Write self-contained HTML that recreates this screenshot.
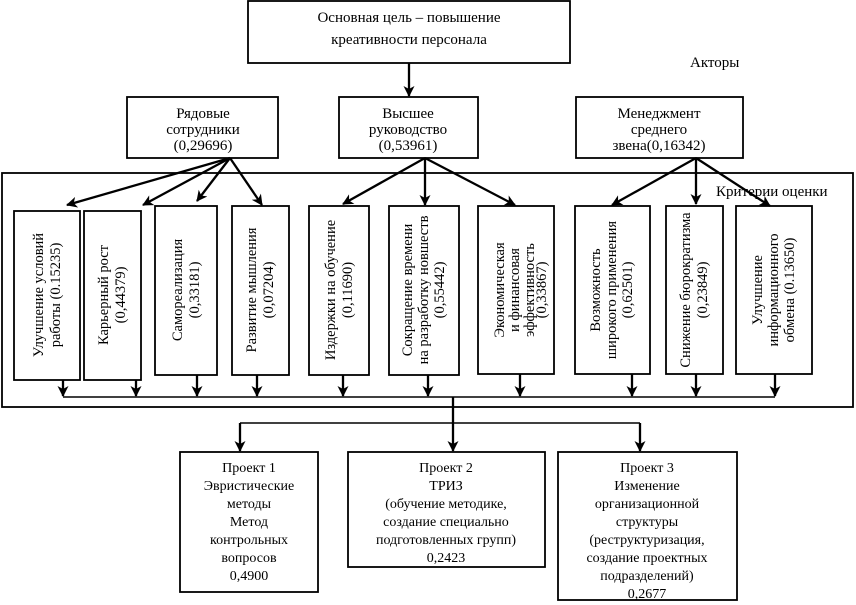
<!DOCTYPE html>
<html><head><meta charset="utf-8"><style>
html,body{margin:0;padding:0;background:#fff;}
svg{display:block;font-family:"Liberation Serif","DejaVu Serif",serif;}
text{font-size:14px;fill:#000;}
.big{font-size:15px;}
</style></head><body>
<svg width="856" height="605" viewBox="0 0 856 605" xmlns="http://www.w3.org/2000/svg">
<defs>
<marker id="a" markerWidth="11" markerHeight="11" refX="10" refY="5.5" orient="auto" markerUnits="userSpaceOnUse">
<path d="M0,0 L11,5.5 L0,11 L3,5.5 Z" fill="#000"/>
</marker>
</defs>
<g fill="none" stroke="#000" stroke-width="1.8">
<rect x="248" y="1" width="322" height="62"/>
<rect x="127" y="97" width="151" height="61"/>
<rect x="339" y="97" width="139" height="61"/>
<rect x="576" y="97" width="167" height="61"/>
<rect x="2" y="173" width="851" height="234"/>
<rect x="14" y="211" width="66" height="169"/>
<rect x="84" y="211" width="57" height="169"/>
<rect x="155" y="206" width="62" height="169"/>
<rect x="232" y="206" width="57" height="169"/>
<rect x="309" y="206" width="60" height="169"/>
<rect x="389" y="206" width="70" height="169"/>
<rect x="478" y="206" width="76" height="168"/>
<rect x="575" y="206" width="75" height="168"/>
<rect x="666" y="206" width="57" height="168"/>
<rect x="736" y="206" width="76" height="168"/>
<rect x="180" y="452" width="138" height="140"/>
<rect x="348" y="452" width="197" height="115"/>
<rect x="558" y="452" width="179" height="148"/>
</g>
<g stroke="#000" stroke-width="2.3" marker-end="url(#a)">
<line x1="409" y1="63" x2="409" y2="96"/>
<line x1="230" y1="158" x2="67" y2="205"/>
<line x1="230" y1="158" x2="143" y2="205"/>
<line x1="230" y1="158" x2="197" y2="201"/>
<line x1="230" y1="158" x2="262" y2="205"/>
<line x1="425" y1="158" x2="343" y2="204"/>
<line x1="425" y1="158" x2="425" y2="205"/>
<line x1="425" y1="158" x2="515" y2="205"/>
<line x1="696" y1="158" x2="612" y2="205"/>
<line x1="696" y1="158" x2="696" y2="204"/>
<line x1="696" y1="158" x2="770" y2="206"/>
<line x1="63" y1="380" x2="63" y2="396"/>
<line x1="136" y1="380" x2="136" y2="396"/>
<line x1="197" y1="375" x2="197" y2="396"/>
<line x1="257" y1="375" x2="257" y2="396"/>
<line x1="343" y1="375" x2="343" y2="396"/>
<line x1="428" y1="375" x2="428" y2="396"/>
<line x1="520" y1="374" x2="520" y2="396"/>
<line x1="632" y1="374" x2="632" y2="396"/>
<line x1="696" y1="374" x2="696" y2="396"/>
<line x1="775" y1="374" x2="775" y2="396"/>
<line x1="240" y1="423" x2="240" y2="451"/>
<line x1="453" y1="397" x2="453" y2="451"/>
<line x1="640" y1="423" x2="640" y2="451"/>
</g>
<g stroke="#000" stroke-width="1.6">
<line x1="63" y1="397" x2="775" y2="397"/>
<line x1="240" y1="423" x2="640" y2="423"/>
</g>
<g text-anchor="middle" class="big">
<text class="big" x="409" y="22">Основная цель – повышение</text>
<text class="big" x="409" y="44">креативности персонала</text>
<text class="big" x="203" y="118">Рядовые</text>
<text class="big" x="203" y="134">сотрудники</text>
<text class="big" x="203" y="150">(0,29696)</text>
<text class="big" x="408" y="118">Высшее</text>
<text class="big" x="408" y="134">руководство</text>
<text class="big" x="408" y="150">(0,53961)</text>
<text class="big" x="659" y="118">Менеджмент</text>
<text class="big" x="659" y="134">среднего</text>
<text class="big" x="659" y="150">звена(0,16342)</text>
</g>
<g text-anchor="middle">
<text x="249" y="472">Проект 1</text>
<text x="249" y="490">Эвристические</text>
<text x="249" y="508">методы</text>
<text x="249" y="526">Метод</text>
<text x="249" y="544">контрольных</text>
<text x="249" y="562">вопросов</text>
<text x="249" y="580">0,4900</text>
<text x="446" y="472">Проект 2</text>
<text x="446" y="490">ТРИЗ</text>
<text x="446" y="508">(обучение методике,</text>
<text x="446" y="526">создание специально</text>
<text x="446" y="544">подготовленных групп)</text>
<text x="446" y="562">0,2423</text>
<text x="647" y="472">Проект 3</text>
<text x="647" y="490">Изменение</text>
<text x="647" y="508">организационной</text>
<text x="647" y="526">структуры</text>
<text x="647" y="544">(реструктуризация,</text>
<text x="647" y="562">создание проектных</text>
<text x="647" y="580">подразделений)</text>
<text x="647" y="598">0,2677</text>
</g>
<text class="big" x="690" y="67">Акторы</text>
<text class="big" x="716" y="196">Критерии оценки</text>
<g text-anchor="middle" style="font-size:14.5px">
<text style="font-size:14.5px" transform="translate(47,295) rotate(-90)"><tspan x="0" y="-4">Улучшение условий</tspan><tspan x="0" y="13">работы (0.15235)</tspan></text>
<text style="font-size:14.5px" transform="translate(112,295) rotate(-90)"><tspan x="0" y="-4">Карьерный рост</tspan><tspan x="0" y="13">(0,44379)</tspan></text>
<text style="font-size:14.5px" transform="translate(186,290) rotate(-90)"><tspan x="0" y="-4">Самореализация</tspan><tspan x="0" y="13">(0,33181)</tspan></text>
<text style="font-size:14.5px" transform="translate(260,290) rotate(-90)"><tspan x="0" y="-4">Развитие мышления</tspan><tspan x="0" y="13">(0,07204)</tspan></text>
<text style="font-size:14.5px" transform="translate(339,290) rotate(-90)"><tspan x="0" y="-4">Издержки на обучение</tspan><tspan x="0" y="13">(0,11690)</tspan></text>
<text style="font-size:14.5px" transform="translate(424,290) rotate(-90)"><tspan x="0" y="-12">Сокращение времени</tspan><tspan x="0" y="4">на разработку новшеств</tspan><tspan x="0" y="20">(0,55442)</tspan></text>
<text style="font-size:14.5px" transform="translate(516,290) rotate(-90)"><tspan x="0" y="-12">Экономическая</tspan><tspan x="0" y="3">и финансовая</tspan><tspan x="0" y="18">эффективность</tspan><tspan x="0" y="30">(0,33867)</tspan></text>
<text style="font-size:14.5px" transform="translate(612,290) rotate(-90)"><tspan x="0" y="-12">Возможность</tspan><tspan x="0" y="4">широкого применения</tspan><tspan x="0" y="20">(0,62501)</tspan></text>
<text style="font-size:14.5px" transform="translate(694,290) rotate(-90)"><tspan x="0" y="-4">Снижение бюрократизма</tspan><tspan x="0" y="13">(0,23849)</tspan></text>
<text style="font-size:14.5px" transform="translate(774,290) rotate(-90)"><tspan x="0" y="-12">Улучшение</tspan><tspan x="0" y="4">информационного</tspan><tspan x="0" y="20">обмена (0.13650)</tspan></text>
</g>
</svg>
</body></html>
